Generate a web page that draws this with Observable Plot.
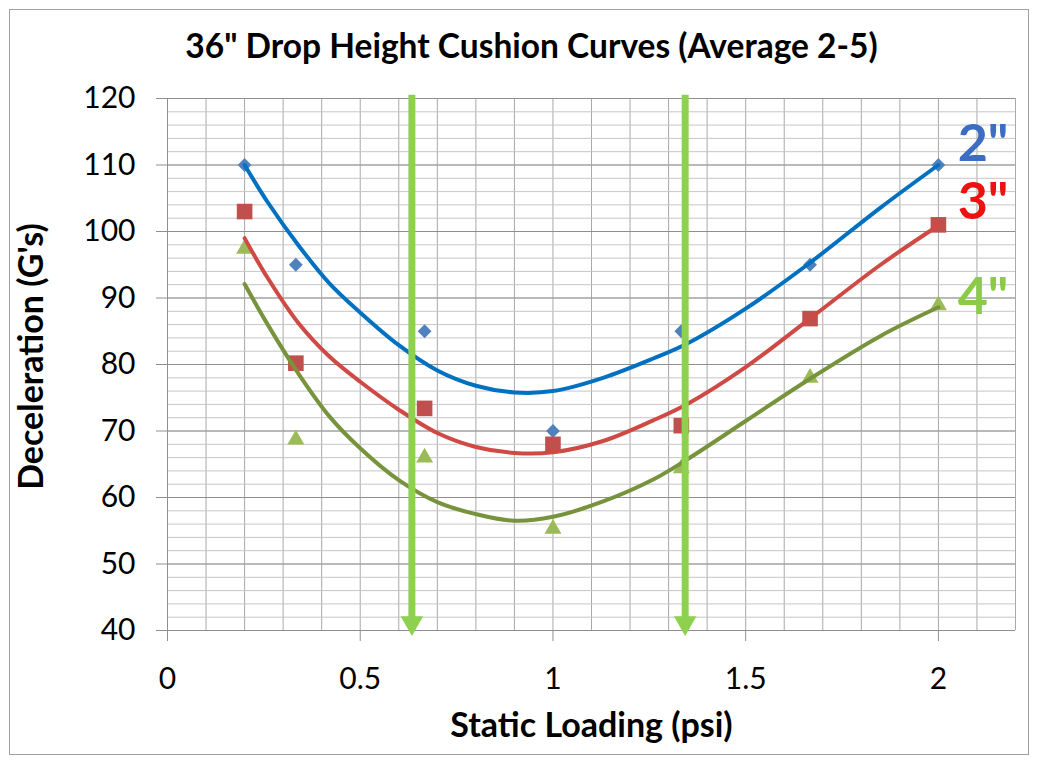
<!DOCTYPE html>
<html><head><meta charset="utf-8">
<script src="https://cdn.jsdelivr.net/npm/d3@7"></script>
<script src="https://cdn.jsdelivr.net/npm/@observablehq/plot@0.6"></script>
<style>
body{margin:0;background:#fff;}
#frame{position:relative;width:1037px;height:762px;overflow:hidden;background:#fff;}
#border{position:absolute;left:9px;top:9px;width:1020px;height:746px;border:1px solid #a0a0a0;box-sizing:border-box;}
#title{position:absolute;left:26px;top:25px;width:1011px;text-align:center;font-family:Lato,sans-serif;font-weight:bold;font-size:33.5px;line-height:40px;color:#000;}
#chart{position:absolute;left:0;top:85px;}
</style></head>
<body>
<div id="frame">
<div id="border"></div>
<div id="title">36" Drop Height Cushion Curves (Average 2-5)</div>
<div id="chart"></div>
</div>
<script>
// Measured data points
const loading = [0.2, 0.333, 0.667, 1.0, 1.333, 1.667, 2.0];
const decel2 = [110, 95, 85, 70, 85, 95, 110];
const decel3 = [103, 80.2, 73.4, 68, 70.8, 86.9, 101];
const decel4 = [97.4, 68.7, 66, 55.3, 64.4, 78, 88.9];

// Trend curves
const curveX  = [0.2, 0.26, 0.34, 0.42, 0.5, 0.6, 0.7, 0.8, 0.9, 1.0, 1.13, 1.26, 1.35, 1.5, 1.66, 1.85, 2.0];
const trend2  = [110, 104.4, 97.9, 92.2, 87.8, 82.9, 79.1, 76.8, 75.8, 76.0, 78.0, 80.9, 83.2, 88.4, 95.0, 103.6, 110];
const trend3  = [99, 93.0, 86.2, 81.2, 77.4, 73.2, 69.7, 67.6, 66.7, 66.8, 68.5, 71.6, 74.1, 79.6, 86.6, 95.0, 100.9];
const trend4  = [92.1, 86.0, 78.6, 72.2, 67.4, 62.6, 59.3, 57.5, 56.5, 57.1, 59.4, 62.7, 65.8, 71.5, 77.6, 84.3, 88.6];

const seriesNames = ['2"', '3"', '4"'];
const labelY = [113.1, 104.4, 90.1];
const labelX = 2.05;

const arrowX = [0.634, 1.343];
const arrowTop = 120.5;
const arrowTip = 39.2;

const xTicks = [0, 0.5, 1, 1.5, 2];
const yTicks = [40, 50, 60, 70, 80, 90, 100, 110, 120];
const xGrid = d3.range(0, 22.5, 1).map(d => d / 10);
const yGrid = d3.range(40, 121, 2);

const pts = (ys) => loading.map((x, i) => ({x, y: ys[i]}));
const crv = (ys) => curveX.map((x, i) => ({x, y: ys[i]}));

const lineColors = ["#0070C0", "#CF4A44", "#77933C"];
const markColors = ["#4F81BD", "#C0504D", "#9BBB59"];
const labelColors = ["#3C6DC2", "#F01010", "#8CCB45"];
const labels = seriesNames.map((s, i) => ({s, y: labelY[i], c: labelColors[i]}));

const chart = Plot.plot({
  width: 1037, height: 677,
  marginLeft: 167, marginRight: 22, marginTop: 13, marginBottom: 132,
  x: {domain: [0, 2.2]},
  y: {domain: [40, 120]},
  style: {fontFamily: "Lato, sans-serif", color: "#000", background: "transparent", overflow: "visible"},
  marks: [
    Plot.ruleX(xGrid, {stroke: "#a9a9a9", strokeWidth: 1}),
    Plot.ruleY(yGrid, {stroke: "#c6c6c6", strokeWidth: 1}),
    Plot.ruleY(yTicks, {stroke: "#8f8f8f", strokeWidth: 1}),
    Plot.axisX(xTicks, {tickSize: 11, tickPadding: 26, fontSize: 30, stroke: "#8f8f8f", label: null, tickFormat: d => String(d)}),
    Plot.axisY(yTicks, {tickSize: 11, tickPadding: 21, fontSize: 30, stroke: "#8f8f8f", label: null}),
    Plot.ruleX([0], {stroke: "#8f8f8f"}),
    Plot.ruleY([40], {stroke: "#8f8f8f"}),
    // markers
    Plot.dot(pts(decel2), {x: "x", y: "y", symbol: "diamond2", r: 6.2, fill: markColors[0]}),
    Plot.dot(pts(decel3), {x: "x", y: "y", symbol: "square", r: 8.8, fill: markColors[1]}),
    Plot.dot(pts(decel4), {x: "x", y: "y", symbol: "triangle", r: 6.3, fill: markColors[2]}),
    // trend lines
    Plot.line(crv(trend2), {x: "x", y: "y", stroke: lineColors[0], strokeWidth: 4, curve: "catmull-rom"}),
    Plot.line(crv(trend3), {x: "x", y: "y", stroke: lineColors[1], strokeWidth: 4, curve: "catmull-rom"}),
    Plot.line(crv(trend4), {x: "x", y: "y", stroke: lineColors[2], strokeWidth: 4, curve: "catmull-rom"}),
    // arrows
    Plot.ruleX(arrowX, {y1: arrowTop, y2: arrowTip + 2, stroke: "#8ED14F", strokeWidth: 7}),
    Plot.dot(arrowX, {x: d => d, y: arrowTip, symbol: "triangle", rotate: 180, r: 8.4, dy: -13, fill: "#8ED14F"}),
    // series labels
    Plot.text(labels, {x: labelX, y: "y", text: "s", fill: "c", textAnchor: "start", lineAnchor: "middle", fontSize: 52, fontWeight: "bold"}),
    // axis titles
    Plot.text(["Deceleration (G's)"], {text: d => d, frameAnchor: "left", textAnchor: "middle", lineAnchor: "middle", dx: -135, dy: -8, rotate: -90, fontSize: 34, fontWeight: "bold", fill: "#000"}),
    Plot.text(["Static Loading (psi)"], {text: d => d, frameAnchor: "bottom", dy: 106, fontSize: 34, fontWeight: "bold", fill: "#000"})
  ]
});
document.getElementById("chart").appendChild(chart);
</script>
</body></html>
